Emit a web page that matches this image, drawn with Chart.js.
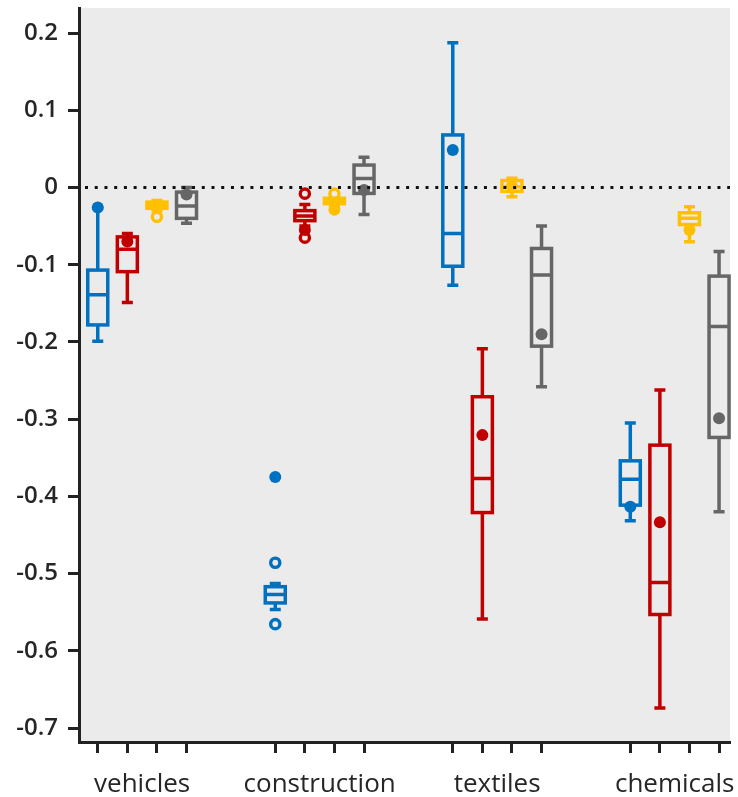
<!DOCTYPE html>
<html>
<head>
<meta charset="utf-8">
<script src="https://cdn.jsdelivr.net/npm/chart.js@4/dist/chart.umd.min.js"></script>
<style>
  html, body { margin: 0; padding: 0; background: #fff; overflow: hidden; }
  #wrap { position: relative; width: 738px; height: 797px; }
</style>
</head>
<body>
<div id="wrap"><canvas id="chart"></canvas></div>
<script>
// ─── DATA ────────────────────────────────────────────────────────────────
const categories = ['vehicles', 'construction', 'textiles', 'chemicals'];
const yTicks = [0.2, 0.1, 0, -0.1, -0.2, -0.3, -0.4, -0.5, -0.6, -0.7];

// per category: [low whisker, q1, median, q3, high whisker]
const blueBox = [
  [-0.199, -0.178, -0.139, -0.107, -0.027],
  [-0.5465, -0.538, -0.527, -0.517, -0.513],
  [-0.1265, -0.102, -0.0595, 0.068, 0.1875],
  [-0.4317, -0.4114, -0.378, -0.354, -0.305]
];
const blueMean = [-0.026, -0.375, 0.0484, -0.4136];
const blueOutliers = [[], [-0.486, -0.5655], [], []];

const redBox = [
  [-0.149, -0.109, -0.080, -0.064, -0.0595],
  [-0.050, -0.043, -0.037, -0.030, -0.022],
  [-0.5587, -0.421, -0.377, -0.271, -0.209],
  [-0.674, -0.553, -0.5115, -0.3337, -0.2624]
];
const redMean = [-0.070, -0.055, -0.3207, -0.4334];
const redOutliers = [[], [-0.008, -0.065], [], []];

const yellowBox = [
  [-0.030, -0.027, -0.023, -0.019, -0.017],
  [-0.024, -0.021, -0.018, -0.014, -0.012],
  [-0.012, -0.005, 0.001, 0.009, 0.012],
  [-0.0703, -0.048, -0.040, -0.0328, -0.025]
];
const yellowMean = [-0.024, -0.029, 0.002, -0.055];
const yellowOutliers = [[-0.038], [-0.008], [], []];

const grayBox = [
  [-0.0465, -0.040, -0.024, -0.006, 0.0],
  [-0.035, -0.0077, 0.0115, 0.029, 0.039],
  [-0.258, -0.2055, -0.1135, -0.079, -0.050],
  [-0.420, -0.3237, -0.180, -0.1148, -0.083]
];
const grayMean = [-0.009, -0.0034, -0.190, -0.299];
const grayOutliers = [[], [], [], []];

// ─── SERIES / STYLE ──────────────────────────────────────────────────────
const series = [
  { box: blueBox, mean: blueMean, out: blueOutliers, color: '#0070c0' },
  { box: redBox, mean: redMean, out: redOutliers, color: '#c00000' },
  { box: yellowBox, mean: yellowMean, out: yellowOutliers, color: '#ffc000' },
  { box: grayBox, mean: grayMean, out: grayOutliers, color: '#666666' }
];
const GROUP_STEP = 6;
const slotOf = (ci, si) => ci * GROUP_STEP + si;
const groupCenters = categories.map((_, ci) => ci * GROUP_STEP + 1.5);
const boxSlots = [];
categories.forEach((_, ci) => series.forEach((_, si) => boxSlots.push(slotOf(ci, si))));
const xTickValues = [...boxSlots, ...groupCenters].sort((a, b) => a - b);

const BG = '#ebebeb';
const AXIS = '#222222';

const datasets = [];
series.forEach((s, si) => {
  datasets.push({
    label: 'mean' + si,
    data: s.mean.map((v, ci) => ({ x: slotOf(ci, si), y: v })),
    pointRadius: 6,
    pointBackgroundColor: s.color,
    pointBorderWidth: 0,
    showLine: false
  });
  const outs = [];
  s.out.forEach((list, ci) => list.forEach(v => outs.push({ x: slotOf(ci, si), y: v })));
  datasets.push({
    label: 'out' + si,
    data: outs,
    pointRadius: 4.6,
    pointBackgroundColor: BG,
    pointBorderColor: s.color,
    pointBorderWidth: 3.4,
    showLine: false
  });
});

// ─── PLUGINS ─────────────────────────────────────────────────────────────
const backdrop = {
  id: 'backdrop',
  beforeDraw(chart) {
    const { ctx, chartArea: a } = chart;
    ctx.save();
    ctx.fillStyle = BG;
    ctx.fillRect(a.left, a.top, a.right - a.left, a.bottom - a.top);
    ctx.restore();
  }
};

const boxes = {
  id: 'boxes',
  beforeDatasetsDraw(chart) {
    const { ctx, scales: { x, y } } = chart;
    const hw = 10, cw = 5.5;
    ctx.save();
    ctx.lineWidth = 3.5;
    series.forEach((s, si) => {
      ctx.strokeStyle = s.color;
      s.box.forEach((b, ci) => {
        const cx = x.getPixelForValue(slotOf(ci, si));
        const [lo, q1, med, q3, hi] = b.map(v => y.getPixelForValue(v));
        ctx.beginPath();
        ctx.moveTo(cx, hi); ctx.lineTo(cx, q3);
        ctx.moveTo(cx, q1); ctx.lineTo(cx, lo);
        ctx.moveTo(cx - cw, hi); ctx.lineTo(cx + cw, hi);
        ctx.moveTo(cx - cw, lo); ctx.lineTo(cx + cw, lo);
        ctx.moveTo(cx - hw, med); ctx.lineTo(cx + hw, med);
        ctx.stroke();
        ctx.strokeRect(cx - hw, q3, hw * 2, q1 - q3);
      });
    });
    ctx.restore();
  }
};

const zeroLine = {
  id: 'zeroLine',
  afterDatasetsDraw(chart) {
    const { ctx, chartArea: a, scales: { y } } = chart;
    const py = y.getPixelForValue(0);
    ctx.save();
    ctx.strokeStyle = '#111';
    ctx.lineWidth = 3;
    ctx.setLineDash([3, 6.73]);
    ctx.beginPath();
    ctx.moveTo(a.left + 6, py);
    ctx.lineTo(a.right, py);
    ctx.stroke();
    ctx.restore();
  }
};

// drop the label-overhang padding Chart.js adds, so the plot spans the full frame
const noEdgePadding = (scale) => {
  scale.paddingTop = 0;
  scale.paddingBottom = 0;
  scale.paddingLeft = 0;
  scale.paddingRight = 0;
};

// ─── CHART ───────────────────────────────────────────────────────────────
Chart.defaults.font.family = "'Open Sans', 'Noto Sans', sans-serif";

new Chart(document.getElementById('chart'), {
  type: 'scatter',
  data: { datasets },
  plugins: [backdrop, boxes, zeroLine],
  options: {
    responsive: true,
    maintainAspectRatio: false,
    animation: false,
    devicePixelRatio: 1,
    layout: { padding: { top: 8, left: 0, right: 0, bottom: 0 } },
    plugins: { legend: { display: false }, tooltip: { enabled: false } },
    scales: {
      x: {
        type: 'linear',
        min: -0.634,
        max: 21.37,
        afterBuildTicks: (scale) => { scale.ticks = xTickValues.map(v => ({ value: v })); },
        afterFit: (scale) => { scale.height = 55; noEdgePadding(scale); },
        border: { display: true, color: AXIS, width: 3 },
        grid: {
          drawOnChartArea: false,
          drawTicks: true,
          tickLength: 11,
          tickWidth: 3,
          tickColor: (c) => (c.tick && groupCenters.includes(c.tick.value)) ? 'rgba(0,0,0,0)' : AXIS
        },
        ticks: {
          autoSkip: false,
          maxRotation: 0,
          padding: 16,
          color: '#262626',
          font: { size: 26 },
          callback: (v) => {
            const gi = groupCenters.indexOf(v);
            return gi >= 0 ? categories[gi] : '';
          }
        }
      },
      y: {
        type: 'linear',
        min: -0.7181,
        max: 0.2324,
        afterBuildTicks: (scale) => { scale.ticks = yTicks.map(v => ({ value: v })); },
        afterFit: (scale) => { scale.width = 79; noEdgePadding(scale); },
        border: { display: true, color: AXIS, width: 3 },
        grid: {
          drawOnChartArea: false,
          drawTicks: true,
          tickLength: 11,
          tickWidth: 3,
          tickColor: AXIS
        },
        ticks: {
          padding: 10,
          color: '#262626',
          font: { size: 24, weight: '600' },
          callback: (v) => String(v)
        }
      }
    }
  }
});
</script>
</body>
</html>
